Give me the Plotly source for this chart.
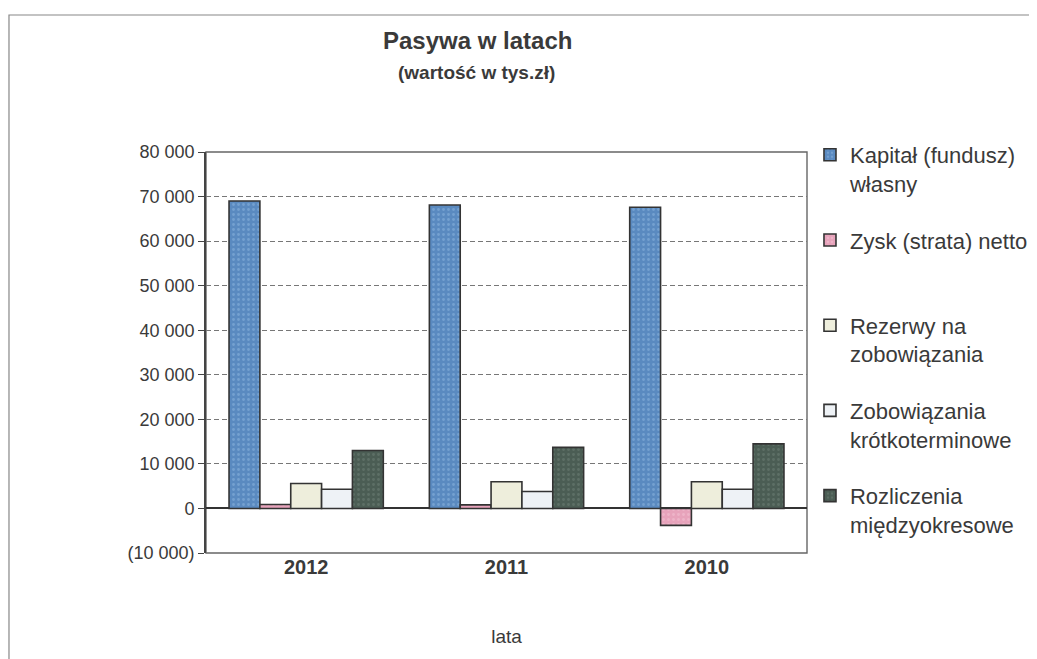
import plotly.graph_objects as go

years = ["2012", "2011", "2010"]
series_names = [
    "Kapitał (fundusz)<br>własny",
    "Zysk (strata) netto<br>\u00a0",
    "Rezerwy na<br>zobowiązania",
    "Zobowiązania<br>krótkoterminowe",
    "Rozliczenia<br>międzyokresowe",
]
kapital = [69000, 68100, 67600]
zysk = [900, 800, -3800]
rezerwy = [5600, 6000, 6000]
zobowiazania = [4300, 3800, 4300]
rozliczenia = [13000, 13700, 14500]
values = [kapital, zysk, rezerwy, zobowiazania, rozliczenia]

y_tickvals = [-10000, 0, 10000, 20000, 30000, 40000, 50000, 60000, 70000, 80000]
y_ticktext = ["(10 000)", "0", "10 000", "20 000", "30 000", "40 000",
              "50 000", "60 000", "70 000", "80 000"]

colors = ["#5a8ac0", "#e7a3bb", "#eeeedc", "#eef2f6", "#4b5d54"]
pattern_fg = ["#8fb8e0", "#f3c6d6", "#eeeedc", "#eef2f6", "#6f8278"]
pattern_shape = [".", ".", "", "", "."]

FONT = "Liberation Sans, Arial, sans-serif"
TXT = "#3a3a3a"

# page has an 8px body margin; plot area should sit at x 206..810, y 152..553
L, R, T, B = 198, 235, 144, 114

fig = go.Figure()
for i, (name, vals) in enumerate(zip(series_names, values)):
    fig.add_trace(go.Bar(
        x=years, y=vals, name=name, legendgroup=str(i),
        marker=dict(
            color=colors[i],
            line=dict(color="#333333", width=1.6),
            pattern=dict(shape=pattern_shape[i], fgcolor=pattern_fg[i],
                         bgcolor=colors[i], size=5, solidity=0.25),
        ),
    ))

def px_x(p):  # page px -> paper x
    return (p - 206) / 604

def px_y(p):  # page px -> paper y
    return (553 - p) / 401

fig.update_layout(
    width=1037, height=659,
    margin=dict(l=L, r=R, t=T, b=B),
    paper_bgcolor="white", plot_bgcolor="white",
    barmode="group", bargap=0.23, bargroupgap=0,
    font=dict(family=FONT, color=TXT, size=16),
    showlegend=True,
    legend=dict(
        x=px_x(813), y=px_y(134), xanchor="left", yanchor="top",
        font=dict(size=22, color=TXT, family=FONT),
        tracegroupgap=25, itemwidth=30, maxheight=600, valign="top",
        bgcolor="rgba(0,0,0,0)",
    ),
    xaxis=dict(
        showgrid=False, showline=False, ticks="",
        tickfont=dict(size=20, family=FONT, color=TXT, weight="bold"),
        title=dict(text="lata", font=dict(size=19, color=TXT), standoff=52),
    ),
    yaxis=dict(
        range=[-10000, 80000],
        tickvals=y_tickvals, ticktext=y_ticktext,
        showgrid=True, gridcolor="#777777", griddash="5px,3px", gridwidth=1,
        zeroline=True, zerolinecolor="#333333", zerolinewidth=1.6,
        showline=True, linecolor="#444444", linewidth=1.6, mirror=False,
        ticks="outside", ticklen=6, tickcolor="#444444",
        tickfont=dict(size=18, color=TXT),
    ),
    annotations=[
        dict(text="<b>Pasywa w latach</b>", xref="paper", yref="paper",
             x=px_x(479), y=px_y(40), xanchor="center", yanchor="middle",
             showarrow=False, font=dict(size=24, color=TXT)),
        dict(text="<b>(wartość w tys.zł)</b>", xref="paper", yref="paper",
             x=px_x(478), y=px_y(72), xanchor="center", yanchor="middle",
             showarrow=False, font=dict(size=19, color=TXT)),
    ],
    shapes=[
        dict(type="rect", xref="paper", yref="paper", x0=0, y0=0, x1=1, y1=1,
             line=dict(color="#666666", width=1.4), layer="below"),
        dict(type="rect", xref="paper", yref="paper",
             x0=px_x(8), y0=-0.4, x1=1.6, y1=px_y(15),
             line=dict(color="#888888", width=1.2), layer="below"),
    ],
)

fig.write_html("out.html")
